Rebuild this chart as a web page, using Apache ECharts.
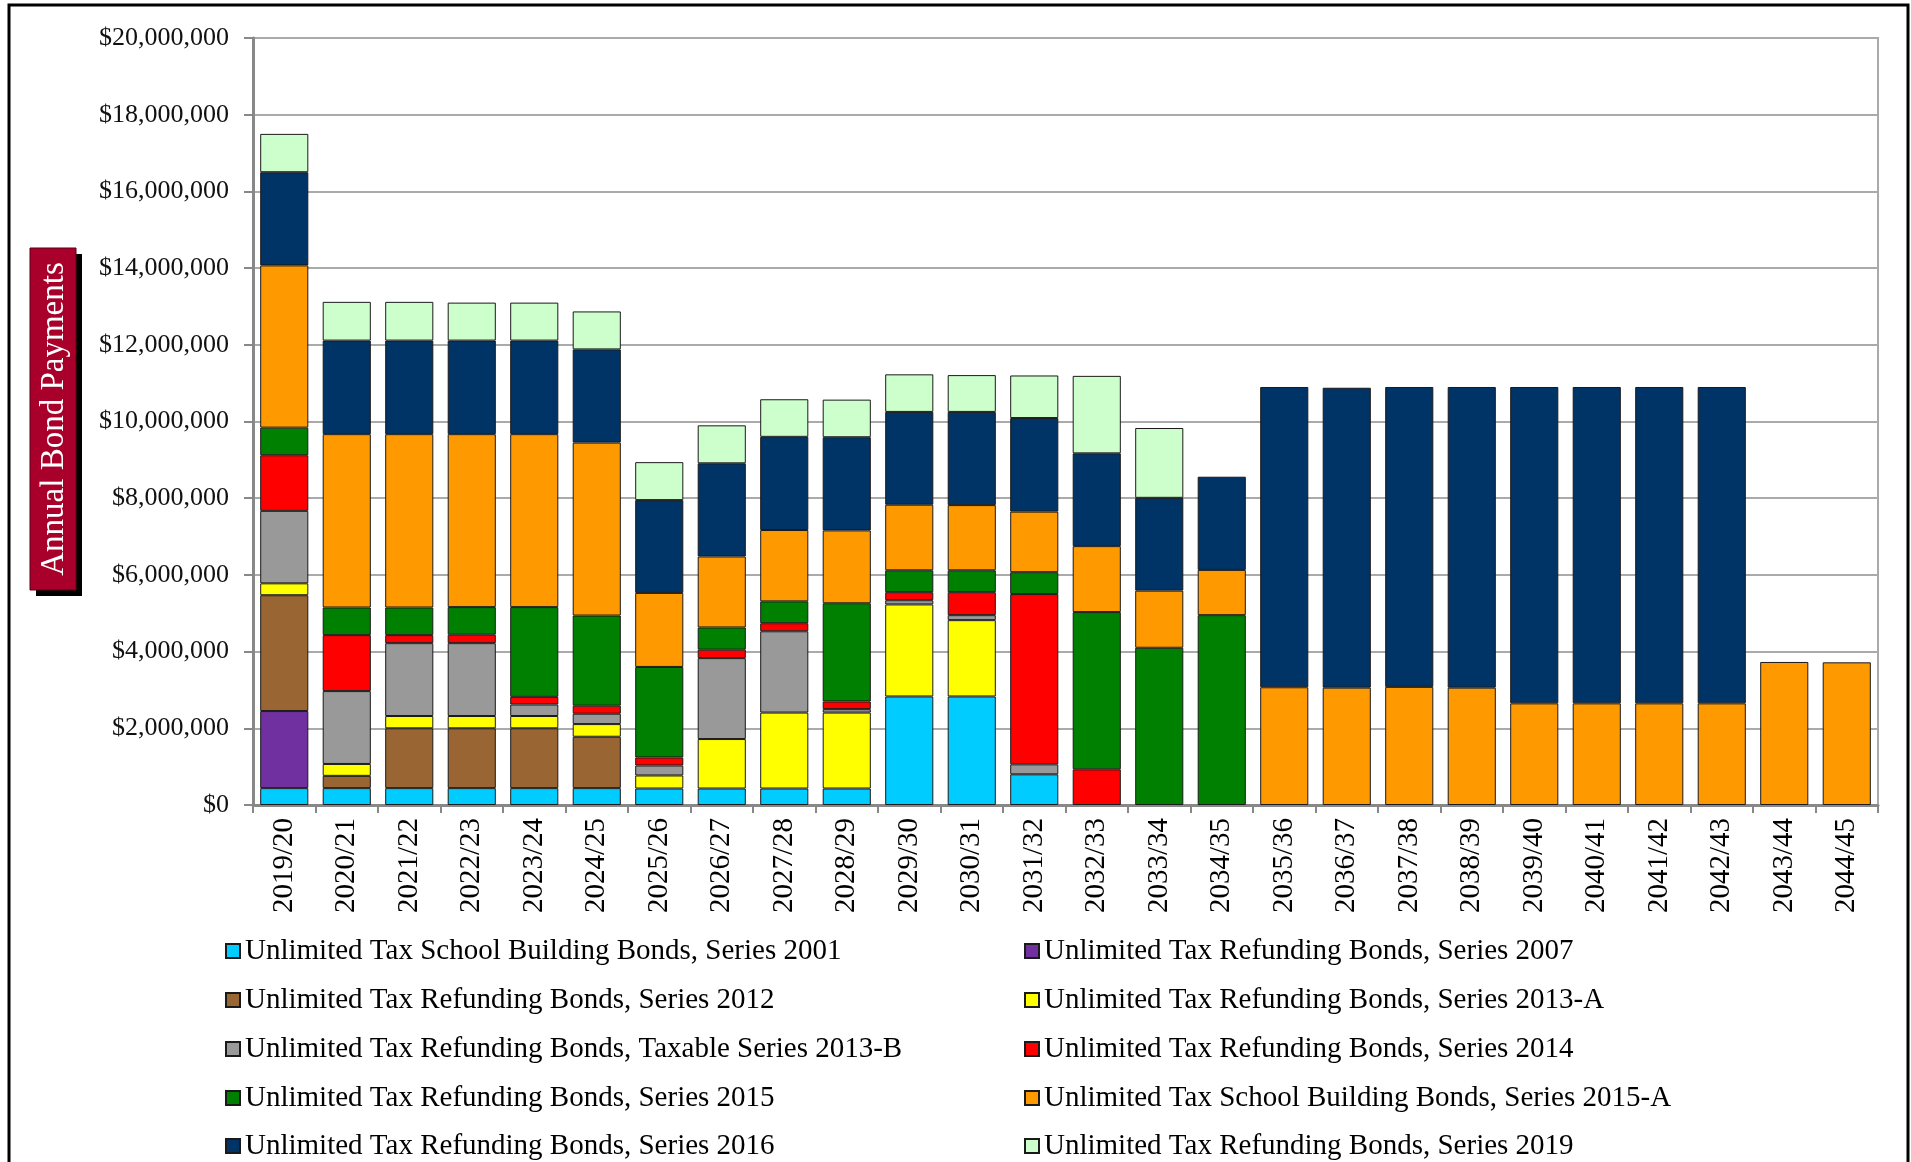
<!DOCTYPE html>
<html>
<head>
<meta charset="utf-8">
<script src="https://cdn.jsdelivr.net/npm/echarts@6/dist/echarts.min.js"></script>
<style>
html,body{margin:0;padding:0;background:#fff;}
#chart{width:1911px;height:1162px;}
</style>
</head>
<body>
<div id="chart"></div>
<script>
// Fiscal years
const categories = ['2019/20','2020/21','2021/22','2022/23','2023/24','2024/25','2025/26','2026/27','2027/28','2028/29','2029/30','2030/31','2031/32','2032/33','2033/34','2034/35','2035/36','2036/37','2037/38','2038/39','2039/40','2040/41','2041/42','2042/43','2043/44','2044/45'];

// Values in $ millions
const s2001  = [0.44,0.44,0.44,0.44,0.44,0.44,0.43,0.43,0.43,0.43,2.83,2.83,0.80,0,0,0,0,0,0,0,0,0,0,0,0,0];
const s2007  = [2.01,0,0,0,0,0,0,0,0,0,0,0,0,0,0,0,0,0,0,0,0,0,0,0,0,0];
const s2012  = [3.02,0.32,1.56,1.56,1.56,1.34,0,0,0,0,0,0,0,0,0,0,0,0,0,0,0,0,0,0,0,0];
const s2013A = [0.31,0.31,0.32,0.32,0.32,0.33,0.34,1.29,1.98,1.98,2.40,1.99,0,0,0,0,0,0,0,0,0,0,0,0,0,0];
const s2013B = [1.89,1.90,1.90,1.90,0.30,0.27,0.26,2.11,2.12,0.09,0.11,0.13,0.26,0,0,0,0,0,0,0,0,0,0,0,0,0];
const s2014  = [1.45,1.46,0.21,0.22,0.20,0.21,0.21,0.22,0.21,0.20,0.21,0.60,4.44,0.93,0,0,0,0,0,0,0,0,0,0,0,0];
const s2015  = [0.72,0.72,0.72,0.72,2.34,2.35,2.36,0.58,0.57,2.56,0.57,0.57,0.57,4.10,4.10,4.95,0,0,0,0,0,0,0,0,0,0];
const s2015A = [4.23,4.52,4.52,4.51,4.51,4.51,1.93,1.85,1.86,1.90,1.71,1.70,1.58,1.72,1.49,1.18,3.07,3.06,3.08,3.06,2.65,2.65,2.65,2.65,3.73,3.72];
const s2016  = [2.43,2.44,2.44,2.44,2.44,2.43,2.42,2.43,2.43,2.43,2.42,2.43,2.44,2.42,2.42,2.43,7.83,7.82,7.82,7.84,8.25,8.25,8.25,8.25,0,0];
const s2019  = [1.00,1.01,1.01,0.99,0.99,0.99,0.99,0.99,0.98,0.98,0.98,0.96,1.11,2.02,1.82,0,0,0,0,0,0,0,0,0,0,0];

const seriesNames = [
  'Unlimited Tax School Building Bonds, Series 2001',
  'Unlimited Tax Refunding Bonds, Series 2007',
  'Unlimited Tax Refunding Bonds, Series 2012',
  'Unlimited Tax Refunding Bonds, Series 2013-A',
  'Unlimited Tax Refunding Bonds, Taxable Series 2013-B',
  'Unlimited Tax Refunding Bonds, Series 2014',
  'Unlimited Tax Refunding Bonds, Series 2015',
  'Unlimited Tax School Building Bonds, Series 2015-A',
  'Unlimited Tax Refunding Bonds, Series 2016',
  'Unlimited Tax Refunding Bonds, Series 2019'
];
const seriesData = [s2001, s2007, s2012, s2013A, s2013B, s2014, s2015, s2015A, s2016, s2019];
const seriesColors = ['#00CCFF','#7030A0','#996633','#FFFF00','#999999','#FF0000','#008000','#FF9900','#003366','#CCFFCC'];

const yTicks = { min: 0, max: 20, interval: 2 };

const FONT = 'Liberation Serif';

const chart = echarts.init(document.getElementById('chart'), null, { renderer: 'canvas' });

const series = seriesData.map((arr, i) => ({
  name: seriesNames[i],
  type: 'bar',
  stack: 'total',
  barCategoryGap: '23%',
  data: arr.map(v => v === 0 ? '-' : v),
  itemStyle: { color: seriesColors[i], borderColor: '#1a1a1a', borderWidth: 1 },
  emphasis: { disabled: true }
}));

const legendText = { fontFamily: FONT, fontSize: 29, color: '#000', lineHeight: 29 };
const rowCenters = [946, 995, 1044, 1093, 1141];
const colLefts = [220, 1019];
const legends = seriesNames.map((name, i) => ({
  orient: 'horizontal',
  left: colLefts[i % 2],
  top: rowCenters[Math.floor(i / 2)] - 14.5,
  itemWidth: 14, itemHeight: 14,
  icon: 'rect',
  data: [name],
  textStyle: legendText,
  selectedMode: false
}));

chart.setOption({
  animation: false,
  backgroundColor: '#fff',
  grid: {
    left: 253, right: 33, top: 38, bottom: 357,
    show: true, borderColor: '#aaaaaa', borderWidth: 2, backgroundColor: 'transparent'
  },
  legend: legends,
  xAxis: {
    type: 'category',
    data: categories,
    boundaryGap: true,
    axisLine: { show: true, lineStyle: { color: '#888', width: 3 } },
    axisTick: { show: true, interval: 0, length: 8, lineStyle: { color: '#888', width: 2 } },
    axisLabel: { interval: 0, rotate: 90, margin: 13, fontFamily: FONT, fontSize: 29, color: '#000' },
    splitLine: { show: false }
  },
  yAxis: {
    type: 'value',
    min: yTicks.min, max: yTicks.max, interval: yTicks.interval,
    axisLine: { show: true, lineStyle: { color: '#888', width: 3 } },
    axisTick: { show: true, length: 9, lineStyle: { color: '#888', width: 2 } },
    axisLabel: {
      margin: 24, fontFamily: FONT, fontSize: 26, color: '#111',
      formatter: v => v === 0 ? '$0' : '$' + Math.round(v * 1000000).toLocaleString('en-US')
    },
    splitLine: { show: true, lineStyle: { color: '#aaaaaa', width: 2 } }
  },
  graphic: [
    { type: 'rect', shape: { x: 9, y: 5, width: 1899, height: 1170 }, style: { fill: 'none', stroke: '#000', lineWidth: 3 }, silent: true },
    { type: 'rect', shape: { x: 36, y: 254, width: 46, height: 342 }, style: { fill: '#000' }, silent: true },
    { type: 'rect', shape: { x: 30, y: 248, width: 46, height: 342 }, style: { fill: '#A8002A', stroke: '#5a0015', lineWidth: 1 }, silent: true },
    {
      type: 'text', x: 54, y: 419, rotation: Math.PI / 2,
      style: { text: 'Annual Bond Payments', fill: '#fff', font: '33px "Liberation Serif"', textAlign: 'center', textVerticalAlign: 'middle' },
      silent: true
    }
  ],
  series: series
});
</script>
</body>
</html>
